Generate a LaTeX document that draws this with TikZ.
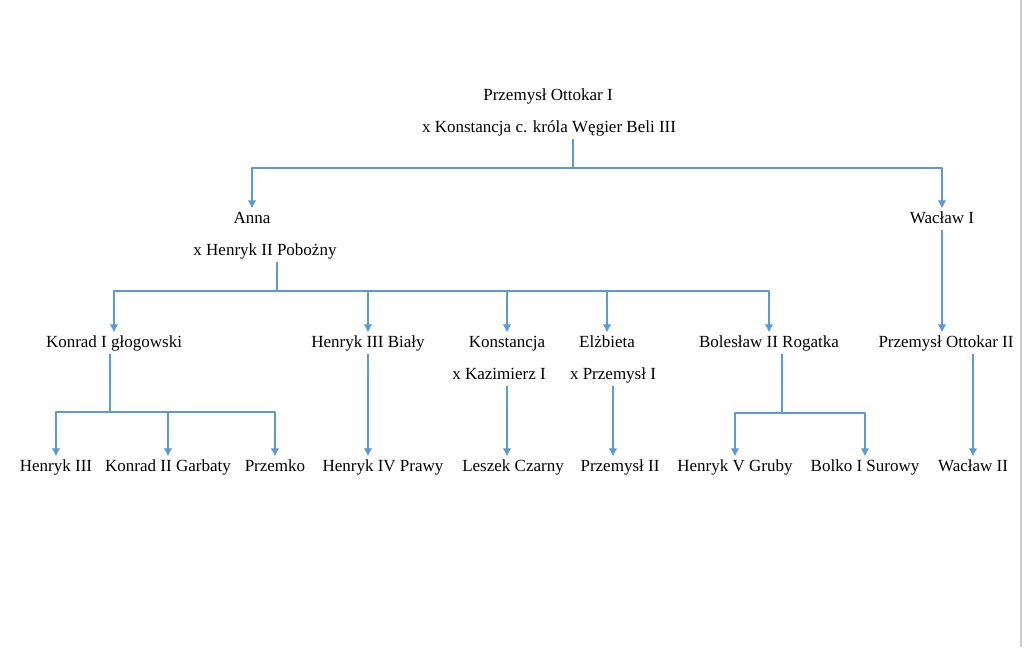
\documentclass[tikz,border=0pt]{standalone}
\usepackage{fontspec}
\setmainfont{Liberation Serif}
\usepackage{tikz}
\usetikzlibrary{arrows.meta}
\definecolor{lineblue}{RGB}{91,155,213}
\tikzset{>=latex,
  person/.style={inner sep=2pt, text height=9pt, text depth=2.6pt, font=\fontsize{12.75}{15}\selectfont},
  link/.style={draw=lineblue, line width=0.8pt},
  arr/.style={link, -{Latex[length=6pt,width=6.5pt]}}}

\begin{document}
\begin{tikzpicture}[x=0.75pt, y=-0.75pt, line join=round]
    \useasboundingbox (0,0) rectangle (1024,647);
    \draw[black!20, line width=0.8pt] (1021,0) -- (1021,647);
    % generation 1
    \node[person] (po1) at (548,96) {Przemysł Ottokar I};
    \node[person] (ko1) at (549,128) {x Konstancja c. króla Węgier Beli III};
    % generation 2
    \node[person] (an) at (252,219) {Anna};
    \node[person] (hp2) at (265,251) {x Henryk II Pobożny};
    \node[person] (w1) at (942,219) {Wacław I};
    % generation 3
    \node[person] (kg) at (114,343) {Konrad I głogowski};
    \node[person] (hb) at (368,343) {Henryk III Biały};
    \node[person] (ko) at (507,343) {Konstancja};
    \node[person] (kk) at (499,375) {x Kazimierz I};
    \node[person] (el) at (607,343) {Elżbieta};
    \node[person] (xp) at (613,375) {x Przemysł I};
    \node[person] (br) at (769,343) {Bolesław II Rogatka};
    \node[person] (po2) at (946,343) {Przemysł Ottokar II};
    % generation 4
    \node[person] (h3) at (56,467) {Henryk III};
    \node[person] (k2) at (168,467) {Konrad II Garbaty};
    \node[person] (pr) at (275,467) {Przemko};
    \node[person] (h4) at (383,467) {Henryk IV Prawy};
    \node[person] (lc) at (513,467) {Leszek Czarny};
    \node[person] (p2) at (620,467) {Przemysł II};
    \node[person] (h5) at (735,467) {Henryk V Gruby};
    \node[person] (bs) at (865,467) {Bolko I Surowy};
    \node[person] (w2) at (973,467) {Wacław II};
    % buses
    \coordinate (b1) at (573,168);
    \coordinate (b2) at (277,291);
    \coordinate (b3) at (110,412);
    \coordinate (b4) at (782,413);
    \draw[link] (ko1.south -| b1) -- (b1);
    \draw[arr] (b1) -| (an.north);
    \draw[arr] (b1) -| (w1.north);
    \draw[link] (hp2.south -| b2) -- (b2);
    \foreach \c in {kg,hb,ko,el,br}
        \draw[arr] (b2) -| (\c.north);
    \draw[link] (kg.south -| b3) -- (b3);
    \foreach \c in {h3,k2,pr}
        \draw[arr] (b3) -| (\c.north);
    \draw[link] (br.south -| b4) -- (b4);
    \foreach \c in {h5,bs}
        \draw[arr] (b4) -| (\c.north);
    % single lines
    \draw[arr] (w1.south) -- (w1.south |- po2.north);
    \draw[arr] (hb.south) -- (hb.south |- h4.north);
    \draw[arr] (kk.south -| ko.south) -- (ko.south |- lc.north);
    \draw[arr] (xp.south) -- (xp.south |- p2.north);
    \draw[arr] (po2.south -| w2.north) -- (w2.north);
\end{tikzpicture}
\end{document}
